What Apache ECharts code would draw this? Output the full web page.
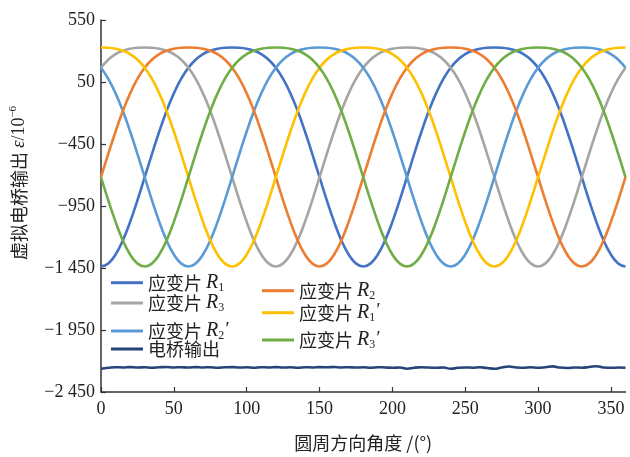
<!DOCTYPE html>
<html>
<head>
<meta charset="utf-8">
<script src="https://cdn.jsdelivr.net/npm/echarts@6/dist/echarts.min.js"></script>
<style>
html,body{margin:0;padding:0;background:#fff;}
#chart{width:630px;height:457px;}
</style>
</head>
<body>
<div id="chart"></div>
<script>
// ---- data ----
var angles = [0,5,10,15,20,25,30,35,40,45,50,55,60,65,70,75,80,85,90,95,100,105,110,115,120,125,130,135,140,145,150,155,160,165,170,175,180,185,190,195,200,205,210,215,220,225,230,235,240,245,250,255,260,265,270,275,280,285,290,295,300,305,310,315,320,325,330,335,340,345,350,355,360];

var r1 = [-1438,-1413,-1341,-1227,-1078,-905,-718,-530,-349,-184,-42,75,165,230,275,302,318,326,328,326,318,302,275,230,165,75,-42,-184,-349,-530,-718,-905,-1078,-1227,-1341,-1413,
          -1438,-1413,-1341,-1227,-1078,-905,-718,-530,-349,-184,-42,75,165,230,275,302,318,326,328,326,318,302,275,230,165,75,-42,-184,-349,-530,-718,-905,-1078,-1227,-1341,-1413,
          -1438];
var r3 = [165,230,275,302,318,326,328,326,318,302,275,230,165,75,-42,-184,-349,-530,-718,-905,-1078,-1227,-1341,-1413,-1438,-1413,-1341,-1227,-1078,-905,-718,-530,-349,-184,-42,75,
          165,230,275,302,318,326,328,326,318,302,275,230,165,75,-42,-184,-349,-530,-718,-905,-1078,-1227,-1341,-1413,-1438,-1413,-1341,-1227,-1078,-905,-718,-530,-349,-184,-42,75,
          165];
var r2p = [165,75,-42,-184,-349,-530,-718,-905,-1078,-1227,-1341,-1413,-1438,-1413,-1341,-1227,-1078,-905,-718,-530,-349,-184,-42,75,165,230,275,302,318,326,328,326,318,302,275,230,
           165,75,-42,-184,-349,-530,-718,-905,-1078,-1227,-1341,-1413,-1438,-1413,-1341,-1227,-1078,-905,-718,-530,-349,-184,-42,75,165,230,275,302,318,326,328,326,318,302,275,230,
           165];
var r2 = [-718,-530,-349,-184,-42,75,165,230,275,302,318,326,328,326,318,302,275,230,165,75,-42,-184,-349,-530,-718,-905,-1078,-1227,-1341,-1413,-1438,-1413,-1341,-1227,-1078,-905,
          -718,-530,-349,-184,-42,75,165,230,275,302,318,326,328,326,318,302,275,230,165,75,-42,-184,-349,-530,-718,-905,-1078,-1227,-1341,-1413,-1438,-1413,-1341,-1227,-1078,-905,
          -718];
var r1p = [328,326,318,302,275,230,165,75,-42,-184,-349,-530,-718,-905,-1078,-1227,-1341,-1413,-1438,-1413,-1341,-1227,-1078,-905,-718,-530,-349,-184,-42,75,165,230,275,302,318,326,
           328,326,318,302,275,230,165,75,-42,-184,-349,-530,-718,-905,-1078,-1227,-1341,-1413,-1438,-1413,-1341,-1227,-1078,-905,-718,-530,-349,-184,-42,75,165,230,275,302,318,326,
           328];
var r3p = [-718,-905,-1078,-1227,-1341,-1413,-1438,-1413,-1341,-1227,-1078,-905,-718,-530,-349,-184,-42,75,165,230,275,302,318,326,328,326,318,302,275,230,165,75,-42,-184,-349,-530,
           -718,-905,-1078,-1227,-1341,-1413,-1438,-1413,-1341,-1227,-1078,-905,-718,-530,-349,-184,-42,75,165,230,275,302,318,326,328,326,318,302,275,230,165,75,-42,-184,-349,-530,
           -718];
var bridge = [-2262,-2255,-2250,-2252,-2249,-2253,-2250,-2254,-2251,-2248,-2252,-2250,-2253,-2249,-2252,-2250,-2254,-2251,-2249,-2253,-2251,-2255,-2250,-2252,-2249,-2253,-2251,-2254,-2250,-2252,-2249,-2251,-2248,-2252,-2250,-2253,-2251,-2254,-2250,-2252,-2255,-2252,-2262,-2254,-2251,-2253,-2255,-2252,-2263,-2255,-2252,-2254,-2251,-2256,-2262,-2252,-2244,-2252,-2255,-2251,-2254,-2250,-2243,-2253,-2256,-2252,-2254,-2249,-2242,-2252,-2255,-2253,-2254];

var xTickValues = [0,50,100,150,200,250,300,350];
var xTickLabels = ['0','50','100','150','200','250','300','350'];
var yTickValues = [-2450,-1950,-1450,-950,-450,50,550];
var yTickLabels = ['\u22122 450','\u22121 950','\u22121 450','\u2212950','\u2212450','50','550'];

var seriesNames = ['R1','R3','R2p','bridge','R2','R1p','R3p'];
var legendLabels = {
  R1: '{cn|应变片 }{r|R}{sub|1}',
  R3: '{cn|应变片 }{r|R}{sub|3}',
  R2p: '{cn|应变片 }{r|R}{sub|2}{p|\u2032}',
  bridge: '{cn|电桥输出}',
  R2: '{cn|应变片 }{r|R}{sub|2}',
  R1p: '{cn|应变片 }{r|R}{sub|1}{p|\u2032}',
  R3p: '{cn|应变片 }{r|R}{sub|3}{p|\u2032}'
};
var xName = '圆周方向角度 /(°)';

// ---- chart ----
function pairs(vals){ return angles.map(function(a,i){ return [a, vals[i]]; }); }
var colors = {R1:'#4472C4', R3:'#A5A5A5', R2p:'#5B9BD5', bridge:'#264478', R2:'#ED7D31', R1p:'#FFC000', R3p:'#70AD47'};
var dataMap = {R1:r1, R3:r3, R2p:r2p, bridge:bridge, R2:r2, R1p:r1p, R3p:r3p};

var rich = {
  cn: {fontFamily:'Noto Sans CJK SC', fontSize:18, lineHeight:22, color:'#222'},
  r: {fontFamily:'Liberation Serif', fontStyle:'italic', fontSize:20, lineHeight:22, color:'#222'},
  p: {fontFamily:'Liberation Serif', fontStyle:'italic', fontSize:19, lineHeight:12, verticalAlign:'top', color:'#222'},
  sub: {fontFamily:'Liberation Serif', fontSize:12, lineHeight:12, verticalAlign:'bottom', color:'#222'}
};

var legendPos = {
  R1:[111,272.7], R3:[111,293], R2p:[111,320], bridge:[111,340],
  R2:[262,280.7], R1p:[262,301.7], R3p:[262,329]
};
var legends = seriesNames.map(function(n){
  return {
    data:[n], orient:'vertical', left:legendPos[n][0], top:legendPos[n][1], padding:0,
    icon:'rect', itemWidth:32, itemHeight:3, itemGap:0, selectedMode:false,
    formatter:function(name){ return legendLabels[name]; },
    textStyle:{rich:rich}
  };
});

var series = seriesNames.map(function(n){
  return {
    name:n, type:'line', data:pairs(dataMap[n]), showSymbol:false, smooth:true,
    lineStyle:{color:colors[n], width:2.6}, itemStyle:{color:colors[n]},
    animation:false
  };
});

var chart = echarts.init(document.getElementById('chart'), null, {renderer:'canvas'});
chart.setOption({
  animation:false,
  backgroundColor:'#fff',
  grid:{left:101, right:4.5, top:20, bottom:65},
  legend:legends,
  xAxis:{
    type:'value', min:0, max:360, interval:50,
    name:xName, nameLocation:'middle', nameGap:42,
    nameTextStyle:{fontFamily:'Noto Sans CJK SC', fontSize:18, color:'#222'},
    axisLine:{onZero:false, lineStyle:{color:'#333', width:1.5}},
    axisTick:{inside:true, length:5, customValues:xTickValues, lineStyle:{color:'#333', width:1.2}},
    axisLabel:{customValues:xTickValues, margin:8, fontFamily:'Liberation Serif', fontSize:18, color:'#222',
      formatter:function(v){ var i = xTickValues.indexOf(v); return i>=0 ? xTickLabels[i] : ''; }},
    splitLine:{show:false}
  },
  yAxis:{
    type:'value', min:-2450, max:550, interval:500,
    axisLine:{show:true, onZero:false, lineStyle:{color:'#333', width:1.5}},
    axisTick:{show:true, inside:true, length:5, lineStyle:{color:'#333', width:1.2}},
    axisLabel:{margin:6, fontFamily:'Liberation Serif', fontSize:18, color:'#222',
      formatter:function(v){ var i = yTickValues.indexOf(v); return i>=0 ? yTickLabels[i] : ''; }},
    splitLine:{show:false}
  },
  graphic:[{
    type:'text', x:19, y:183, rotation:Math.PI/2,
    style:{
      text:'{cn|虚拟电桥输出 }{e|\u03b5}{n|/10}{sup|\u22126}',
      align:'center', verticalAlign:'middle',
      rich:{
        cn:{fontFamily:'Noto Sans CJK SC', fontSize:18, lineHeight:22, fill:'#222'},
        e:{fontFamily:'Liberation Serif', fontStyle:'italic', fontSize:19, lineHeight:22, fill:'#222'},
        n:{fontFamily:'Liberation Serif', fontSize:18, lineHeight:22, fill:'#222'},
        sup:{fontFamily:'Liberation Serif', fontSize:11, lineHeight:12, verticalAlign:'top', fill:'#222'}
      }
    }
  }],
  series:series
});
</script>
</body>
</html>
